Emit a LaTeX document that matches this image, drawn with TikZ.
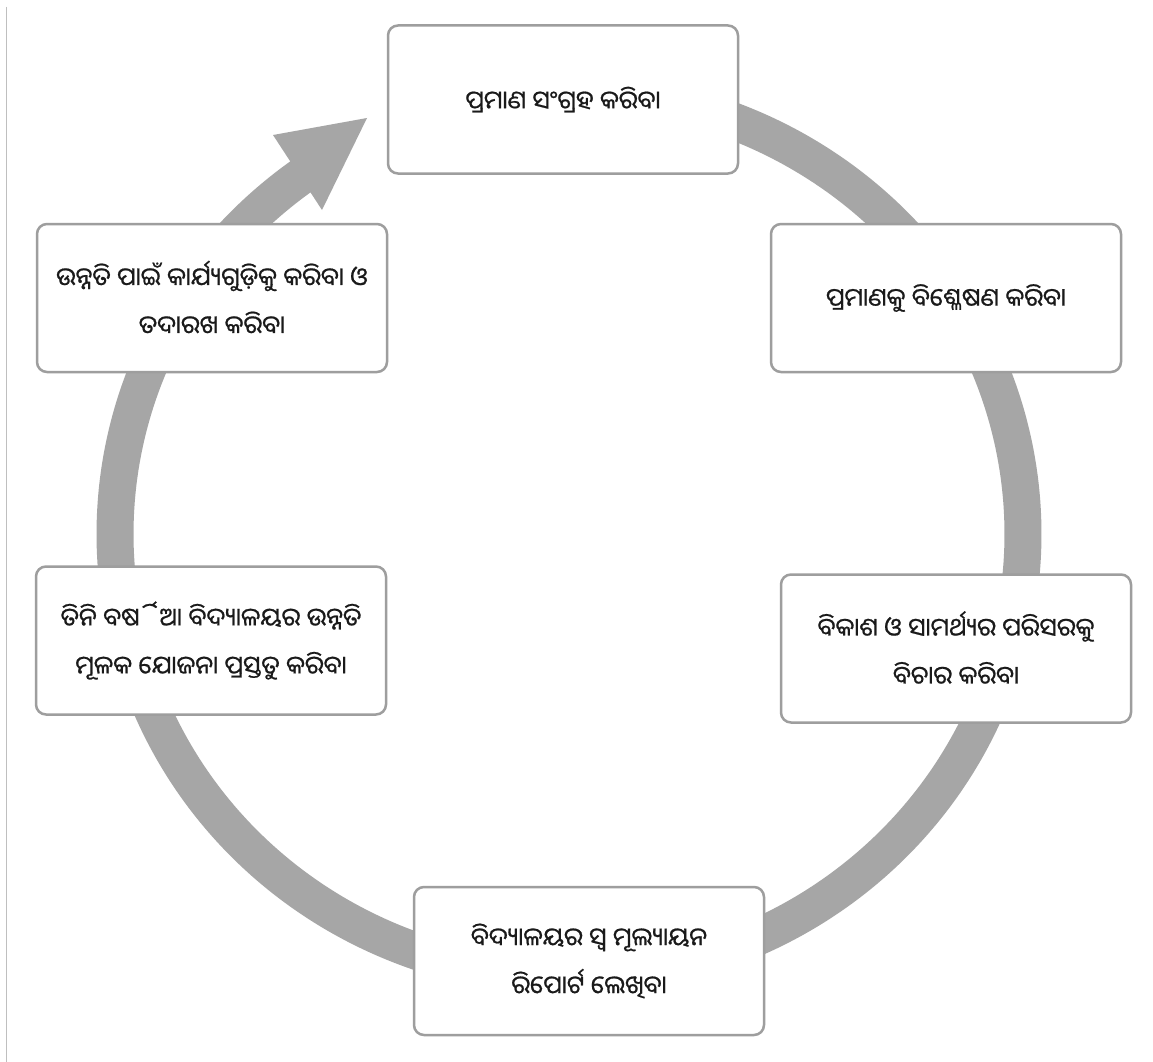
\documentclass[tikz,border=0pt]{standalone}
\usepackage{fontspec}
\newfontfamily\odia[Script=Oriya,FakeBold=0.7]{Noto Sans Oriya UI}
\definecolor{ringgray}{HTML}{A6A6A6}
\definecolor{boxgray}{HTML}{9E9E9E}
\definecolor{txtcol}{HTML}{1A1A1A}
\begin{document}
\begin{tikzpicture}[x=1pt,y=-1pt,
  stagebox/.style={draw=boxgray, line width=2.5pt, fill=white, rounded corners=10pt,
    minimum width=350pt, minimum height=148pt, align=center, text=txtcol,
    font=\odia\fontsize{25}{48}\selectfont, inner sep=0pt}]
\useasboundingbox (0,0) rectangle (1153,1062);
\fill[white] (0,0) rectangle (1153,1062);
\draw[black!25, line width=1pt] (6.5,7) -- (6.5,1062);
% cycle ring
\draw[ringgray, line width=37pt] plot[domain=-80:235, samples=200, smooth]
  ({569+454*cos(\x)},{534+443*sin(\x)});
\fill[ringgray] (367,118) -- (273,135) -- (322,210) -- cycle;
% stages
\node[stagebox] (collect) at (563,99.5) {ପ୍ରମାଣ ସଂଗ୍ରହ କରିବା};
\node[stagebox] (analyse) at (946,298) {ପ୍ରମାଣକୁ ବିଶ୍ଳେଷଣ କରିବା};
\node[stagebox] (scope) at (956,648.5) {ବିକାଶ ଓ ସାମର୍ଥ୍ୟର ପରିସରକୁ\\ବିଚାର କରିବା};
\node[stagebox] (report) at (589,961) {ବିଦ୍ୟାଳୟର ସ୍ୱ ମୂଲ୍ୟାୟନ\\ରିପୋର୍ଟ ଲେଖିବା};
\node[stagebox] (plan) at (211,640.5) {ତିନି ବର୍ଷିଆ ବିଦ୍ୟାଳୟର ଉନ୍ନତି\\ମୂଳକ ଯୋଜନା ପ୍ରସ୍ତୁତ କରିବା};
\node[stagebox] (act) at (212,298) {ଉନ୍ନତି ପାଇଁ କାର୍ଯ୍ୟଗୁଡ଼ିକୁ କରିବା ଓ\\ତଦାରଖ କରିବା};
\end{tikzpicture}
\end{document}
